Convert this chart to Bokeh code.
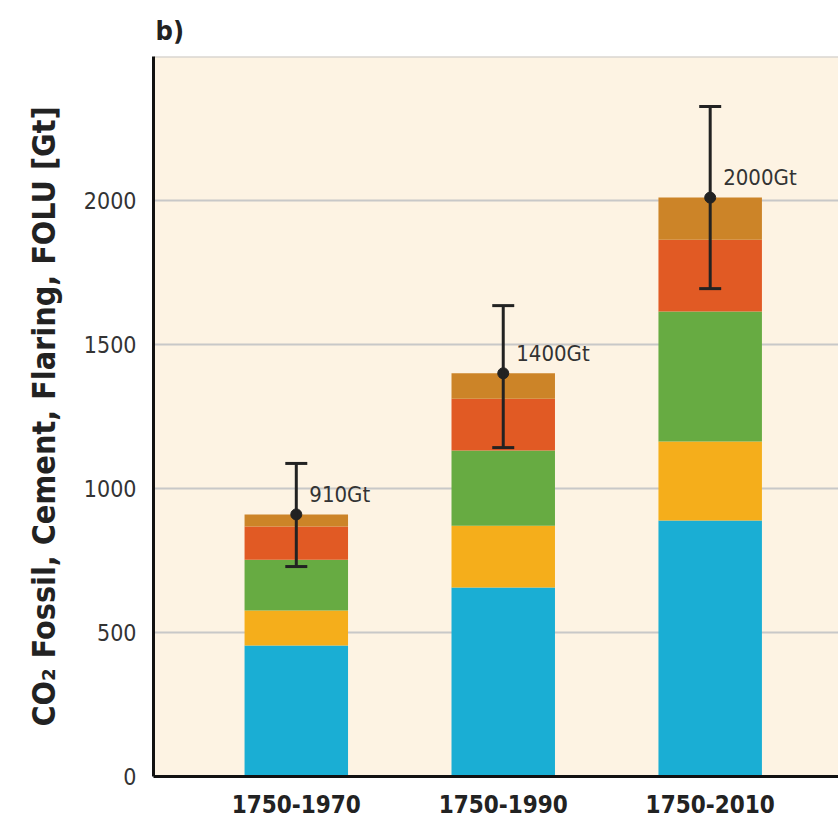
from bokeh.plotting import figure
from bokeh.models import Range1d, FixedTicker, ColumnDataSource, Whisker, TeeHead
from bokeh.core.properties import value
from bokeh.embed import file_html
from bokeh.resources import INLINE

periods = ["1750-1970", "1750-1990", "1750-2010"]
seg_blue = [455, 656, 889]
seg_yellow = [121, 215, 274]
seg_green = [177, 261, 452]
seg_red = [115, 180, 249]
seg_brown = [42, 88, 146]
totals = [910, 1400, 2010]
err_low = [729, 1142, 1694]
err_high = [1087, 1635, 2326]
labels = ["910Gt", "1400Gt", "2000Gt"]
yticks = [0, 500, 1000, 1500, 2000]

colors = ["#1AAED4", "#F5AE1B", "#67AB42", "#E15A24", "#CC8428"]
names = ["blue", "yellow", "green", "red", "brown"]

FONT = "DejaVu Sans Condensed"

x = list(range(len(periods)))
data = dict(x=x, blue=seg_blue, yellow=seg_yellow, green=seg_green,
            red=seg_red, brown=seg_brown, total=totals,
            lo=err_low, hi=err_high, label=labels)
src = ColumnDataSource(data)

p = figure(width=838, height=822, output_backend="svg", toolbar_location=None,
           x_range=Range1d(-0.69, 2.62), y_range=Range1d(0, 2500),
           min_border_left=153, min_border_right=0, min_border_bottom=46,
           min_border_top=56, title="b)")

p.background_fill_color = "#FDF3E3"
p.border_fill_color = "white"
p.outline_line_color = None

p.title.text_font = FONT
p.title.text_font_size = "27px"
p.title.text_font_style = "bold"
p.title.text_color = "#222222"
p.title.offset = 2
p.title.standoff = 22

p.vbar_stack(names, x="x", width=0.5, color=colors, source=src, line_color=None)

w = Whisker(source=src, base="x", lower="lo", upper="hi", line_color="#222222",
            line_width=3, level="overlay",
            lower_head=TeeHead(size=22, line_color="#222222", line_width=3),
            upper_head=TeeHead(size=22, line_color="#222222", line_width=3))
p.add_layout(w)
p.scatter(x="x", y="total", source=src, size=11, color="#222222", level="overlay")
p.text(x="x", y="total", text="label", source=src, x_offset=13, y_offset=-20,
       text_font=value(FONT), text_font_size="22px", text_color="#333333",
       text_baseline="middle", text_align="left")

p.xgrid.grid_line_color = None
p.ygrid.ticker = FixedTicker(ticks=[500, 1000, 1500, 2000, 2499])
p.ygrid.grid_line_color = "#C8C8C8"
p.ygrid.grid_line_width = 2

p.yaxis.ticker = FixedTicker(ticks=yticks)
p.yaxis.axis_line_width = 3
p.yaxis.axis_line_color = "#111111"
p.yaxis.major_tick_line_color = None
p.yaxis.minor_tick_line_color = None
p.yaxis.major_label_text_font = FONT
p.yaxis.major_label_text_font_size = "23px"
p.yaxis.major_label_text_color = "#333333"
p.yaxis.major_label_standoff = 11
p.yaxis.axis_label = "CO\u2082 Fossil, Cement, Flaring, FOLU [Gt]"
p.yaxis.axis_label_text_font = FONT
p.yaxis.axis_label_text_font_size = "32px"
p.yaxis.axis_label_text_font_style = "bold"
p.yaxis.axis_label_text_color = "#222222"
p.yaxis.axis_label_standoff = 18

p.xaxis.ticker = FixedTicker(ticks=x)
p.xaxis.major_label_overrides = {i: s for i, s in zip(x, periods)}
p.xaxis.axis_line_width = 3
p.xaxis.axis_line_color = "#111111"
p.xaxis.major_tick_line_color = None
p.xaxis.minor_tick_line_color = None
p.xaxis.major_label_text_font = FONT
p.xaxis.major_label_text_font_size = "24px"
p.xaxis.major_label_text_font_style = "bold"
p.xaxis.major_label_text_color = "#222222"
p.xaxis.major_label_standoff = 12

open("out.html", "w").write(file_html(p, INLINE))
